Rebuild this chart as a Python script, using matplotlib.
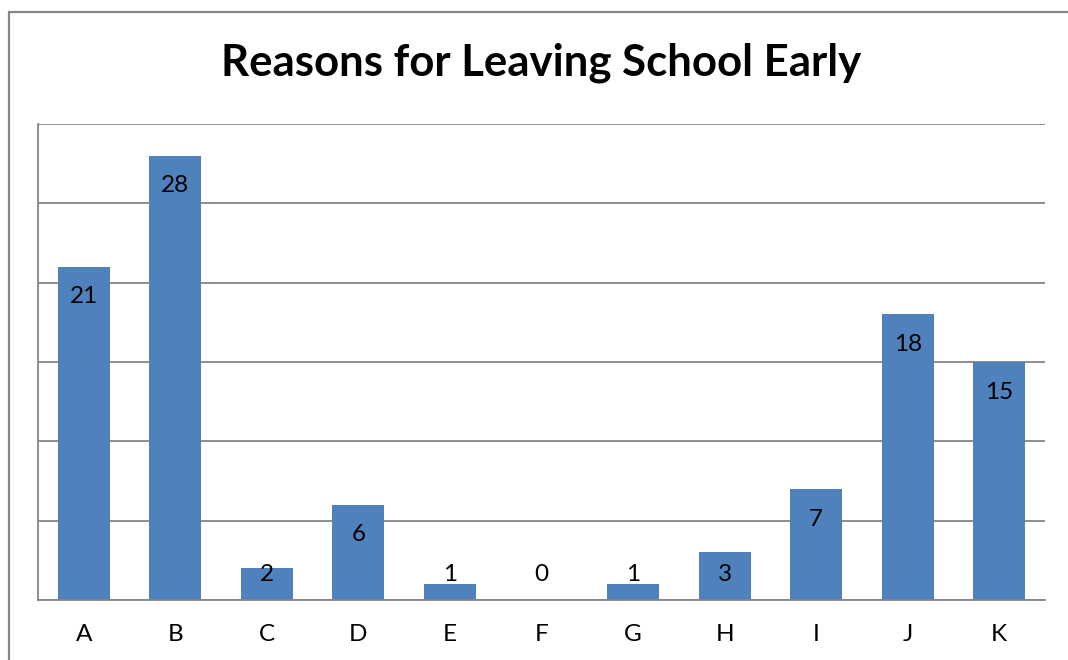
import matplotlib
matplotlib.use("Agg")
import matplotlib.pyplot as plt
from matplotlib.patches import Rectangle

categories = ["A", "B", "C", "D", "E", "F", "G", "H", "I", "J", "K"]
counts = [21, 28, 2, 6, 1, 0, 1, 3, 7, 18, 15]
y_ticks = [0, 5, 10, 15, 20, 25, 30]
title = "Reasons for Leaving School Early"

bar_color = "#4F81BD"
grid_color = "#868686"
font = "Lato"

fig = plt.figure(figsize=(10.68, 6.6), dpi=100)
fig.patch.set_facecolor("white")

# chart frame (runs past the right and bottom edges)
fig.add_artist(Rectangle((9 / 1068, -0.05), 1.2, 1 - 12 / 660 + 0.05,
                         transform=fig.transFigure, fill=False,
                         edgecolor=grid_color, linewidth=1.6))

ax = fig.add_axes([38 / 1068, 1 - 600 / 660, (1045 - 38) / 1068, (600 - 124) / 660])
x = range(len(categories))
ax.bar(x, counts, width=0.57, color=bar_color, zorder=3)

ax.set_xlim(-0.5, len(categories) - 0.5)
ax.set_ylim(y_ticks[0], y_ticks[-1])
ax.set_yticks(y_ticks)
ax.set_yticklabels([])
ax.tick_params(axis="y", length=0)
ax.tick_params(axis="x", length=0, pad=17)
ax.set_xticks(list(x))
ax.set_xticklabels(categories, fontfamily=font, fontsize=17.5)
ax.yaxis.grid(True, color=grid_color, linewidth=1.3, zorder=0)
for side in ("top", "right"):
    ax.spines[side].set_visible(False)
ax.spines["left"].set_color(grid_color)
ax.spines["left"].set_linewidth(1.3)
ax.spines["bottom"].set_color(grid_color)
ax.spines["bottom"].set_linewidth(1.3)
ax.spines["bottom"].set_zorder(4)

# value labels just inside the bar ends, kept clear of the baseline
for xi, v in zip(x, counts):
    ly = max(v - 1.9, 1.6)
    ax.text(xi, ly, str(v), ha="center", va="center",
            fontfamily=font, fontsize=17.5, color="black", zorder=5)

fig.text(0.5066, 1 - 63 / 660, title, ha="center", va="center",
         fontfamily=font, fontweight="bold", fontsize=31.5)

fig.savefig("out.png", dpi=100)
